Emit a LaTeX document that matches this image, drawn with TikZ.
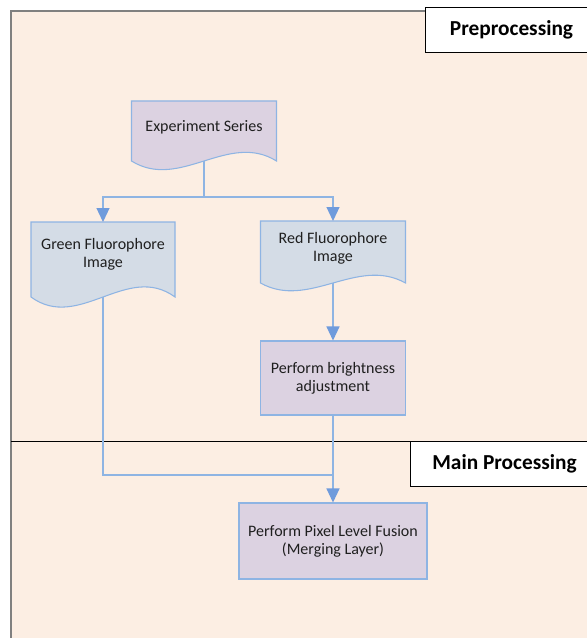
\documentclass[tikz,border=0pt]{standalone}
\usepackage{fontspec}
\setmainfont{Carlito}
\usetikzlibrary{calc,arrows.meta}
\definecolor{peach}{HTML}{FCEEE3}
\definecolor{lav}{HTML}{DCD2E1}
\definecolor{docblue}{HTML}{D4DCE6}
\definecolor{edge}{HTML}{8EB4E3}
\definecolor{arrowc}{HTML}{6F9BDC}
\definecolor{framec}{HTML}{808080}
\definecolor{ink}{HTML}{1F1F1F}
\newcommand\docoutline[3]{%
  \filldraw[draw=edge,fill=#2,line width=0.8pt]
    (#1.south west) -- (#1.north west) -- (#1.north east) -- (#1.south east)
    .. controls ($(#1.south east)!0.333!(#1.south west)+(0,-#3)$)
    and ($(#1.south east)!0.667!(#1.south west)+(0,#3)$) .. (#1.south west) -- cycle;}
\begin{document}
\begin{tikzpicture}[x=0.75pt,y=-0.75pt,
  bodyfont/.style={font=\fontsize{12}{13.5}\selectfont},
  procbox/.style={draw=edge,fill=lav,line width=0.8pt,align=center,bodyfont,text=ink,inner sep=0pt},
  docnode/.style={inner sep=0pt,outer sep=0pt,draw=none},
  txt/.style={align=center,bodyfont,text=ink,inner sep=0pt},
  lbl/.style={draw=black,fill=white,line width=0.75pt,font=\fontsize{16}{18}\selectfont\bfseries,text=black,inner sep=0pt,anchor=north west},
  conn/.style={draw=edge,line width=0.9pt},
  arr/.style={conn,-{Triangle[length=10.5pt,width=9.75pt,color=arrowc]}}]
\useasboundingbox (0,0) rectangle (586,638);
\fill[white] (0,0) rectangle (586,638);
% frame
\fill[peach] (11,11) rectangle (610,660);
\draw[framec,line width=1.3pt] (11,660) -- (11,11) -- (610,11);
\draw[black,line width=0.75pt] (11,441) -- (610,441);
% labels
\node[lbl,minimum width=172*0.75pt,minimum height=45*0.75pt] (pre) at (425,7) {Preprocessing};
\node[lbl,minimum width=188*0.75pt,minimum height=45*0.75pt] (mainp) at (410,441) {Main Processing};
% documents
\node[docnode,minimum width=145*0.75pt,minimum height=60*0.75pt] (exp) at (204,131) {};
\docoutline{exp}{lav}{30}
\node[txt] (expt) at (204,127) {Experiment Series};
\node[docnode,minimum width=144*0.75pt,minimum height=75*0.75pt] (green) at (103,259.5) {};
\docoutline{green}{docblue}{35}
\node[txt] (greent) at (103,254) {Green Fluorophore\\Image};
\node[docnode,minimum width=145*0.75pt,minimum height=62*0.75pt] (red) at (333,252) {};
\docoutline{red}{docblue}{27}
\node[txt] (redt) at (333,248) {Red Fluorophore\\Image};
% process boxes
\node[procbox,minimum width=145*0.75pt,minimum height=74*0.75pt] (bright) at (333,378) {Perform brightness\\adjustment};
\node[procbox,minimum width=188*0.75pt,minimum height=76*0.75pt] (fusion) at (333,541) {Perform Pixel Level Fusion\\(Merging Layer)};
% connectors
\coordinate (split) at (204,197);
\coordinate (join) at (333,475);
\draw[conn] (exp.south) -- (split);
\draw[arr] (split) -| (green.north);
\draw[arr] (split) -| (red.north);
\draw[arr] (red.south) -- (bright.north);
\draw[conn] (green.south) |- (join);
\draw[arr] (bright.south) -- (fusion.north);
\end{tikzpicture}
\end{document}
